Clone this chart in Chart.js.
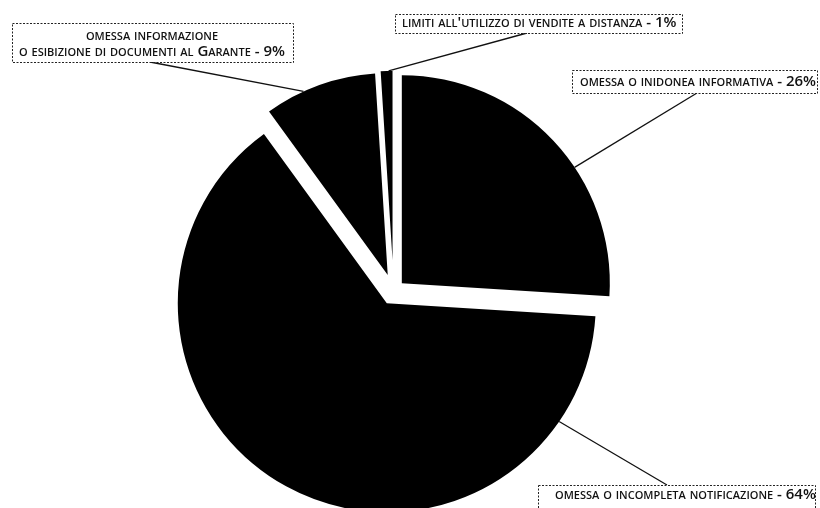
<!DOCTYPE html>
<html lang="it">
<head>
<meta charset="utf-8">
<title>Violazioni contestate</title>
<script src="https://cdn.jsdelivr.net/npm/chart.js@4/dist/chart.umd.min.js"></script>
<style>
  html, body { margin: 0; padding: 0; background: #fff; }
  #wrap { position: relative; width: 820px; height: 508px; }
</style>
</head>
<body>
<div id="wrap"><canvas id="pieChart"></canvas></div>
<script>
/* ===============================
   DATA
================================ */
const categories = [
  "Omessa o inidonea informativa",
  "Omessa o incompleta notificazione",
  "Omessa informazione o esibizione di documenti al Garante",
  "Limiti all'utilizzo di vendite a distanza"
];
const shares = [26, 64, 9, 1]; // %

// label text per slice (lowercase → rendered as small caps)
const labelLines = [
  ["omessa o inidonea informativa"],
  ["omessa o incompleta notificazione"],
  ["omessa informazione", "o esibizione di documenti al Garante"],
  ["limiti all'utilizzo di vendite a distanza"]
];

/* ===============================
   STYLE
================================ */
const sliceShift = [11.4, 13.9, 17, 31];        // explode distance, px
const sliceRadius = [1.0, 1.005, 0.971, 0.909]; // relative to base radius
const leaderAt = [0.6, 0.134, 0.35, 0.67];      // where the leader meets the rim

// callout boxes: [left, top, width, height, textX, baseline, align]
const boxes = [
  [572, 70, 245, 23, 580, 86, "left"],
  [538, 485, 277, 30, 555, 499, "left"],
  [12, 23, 281, 39, 152, 40, "center"],
  [395, 14, 287, 19, 402, 27, "left"]
];
const boxAnchor = [[697, 93], [667, 485], [150, 62], [527, 33]];

const LABEL_FONT = "small-caps 600 15px 'Open Sans'";
const LINE_H = 16;

/* ===============================
   PLUGINS
================================ */
// pull each slice out along its mid angle, with its own radius
const explodePlugin = {
  id: "explode",
  beforeDatasetDraw(chart, args) {
    const ctrl = args.meta.controller;
    const area = chart.chartArea;
    const cx = (area.left + area.right) / 2;
    const cy = (area.top + area.bottom) / 2;
    args.meta.data.forEach((arc, i) => {
      const mid = arc.startAngle + arc.circumference / 2;
      arc.x = cx + Math.cos(mid) * sliceShift[i];
      arc.y = cy + Math.sin(mid) * sliceShift[i];
      arc.outerRadius = ctrl.outerRadius * sliceRadius[i];
    });
  }
};

// dashed callout boxes with leader lines
const calloutPlugin = {
  id: "callouts",
  afterDatasetsDraw(chart) {
    const ctx = chart.ctx;
    const arcs = chart.getDatasetMeta(0).data;

    ctx.save();
    arcs.forEach((arc, i) => {
      const a = arc.startAngle + leaderAt[i] * arc.circumference;
      ctx.beginPath();
      ctx.moveTo(boxAnchor[i][0], boxAnchor[i][1]);
      ctx.lineTo(arc.x + Math.cos(a) * arc.outerRadius, arc.y + Math.sin(a) * arc.outerRadius);
      ctx.strokeStyle = "#111";
      ctx.lineWidth = 1.3;
      ctx.stroke();
    });

    boxes.forEach((b, i) => {
      const [x, y, w, h, tx, ty, align] = b;
      ctx.fillStyle = "#fff";
      ctx.fillRect(x, y, w, h);
      ctx.setLineDash([2, 1.5]);
      ctx.strokeStyle = "#222";
      ctx.lineWidth = 1;
      ctx.strokeRect(x + 0.5, y + 0.5, w, h);
      ctx.setLineDash([]);

      ctx.fillStyle = "#111";
      ctx.font = LABEL_FONT;
      ctx.textAlign = align;
      ctx.textBaseline = "alphabetic";
      const lines = labelLines[i].slice();
      lines[lines.length - 1] += " - " + shares[i] + "%";
      lines.forEach((txt, k) => ctx.fillText(txt, tx, ty + k * LINE_H));
    });
    ctx.restore();
  }
};

/* ===============================
   CHART
================================ */
const chart = new Chart(document.getElementById("pieChart"), {
  type: "pie",
  data: {
    labels: categories,
    datasets: [{
      data: shares,
      backgroundColor: "#000",
      borderWidth: 0
    }]
  },
  options: {
    responsive: true,
    maintainAspectRatio: false,
    animation: false,
    events: [],
    radius: 208,
    layout: { padding: { left: 0, right: 33, top: 74, bottom: 0 } },
    plugins: {
      legend: { display: false },
      tooltip: { enabled: false }
    }
  },
  plugins: [explodePlugin, calloutPlugin]
});
</script>
</body>
</html>
